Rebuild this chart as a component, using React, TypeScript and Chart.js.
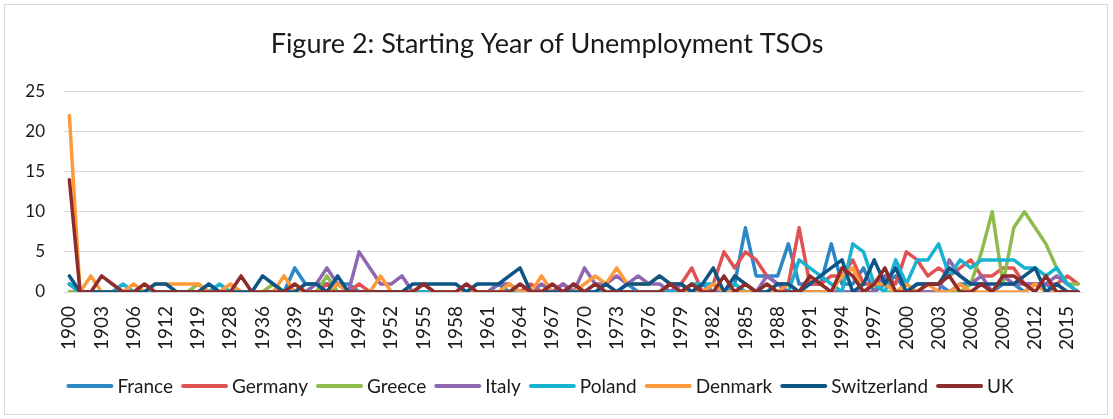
import React, { useEffect, useRef } from "react";
import { Chart, registerables } from "chart.js";

Chart.register(...registerables);

const TITLE = "Figure 2: Starting Year of Unemployment TSOs";

const YEARS = [
  "1900", "1901", "1902", "1903", "1904", "1905", "1906", "1908", "1910", "1912",
  "1914", "1917", "1919", "1922", "1925", "1928", "1931", "1933", "1936", "1937",
  "1938", "1939", "1941", "1943", "1945", "1946", "1947", "1949", "1950", "1951",
  "1952", "1953", "1954", "1955", "1956", "1957", "1958", "1959", "1960", "1961",
  "1962", "1963", "1964", "1965", "1966", "1967", "1968", "1969", "1970", "1971",
  "1972", "1973", "1974", "1975", "1976", "1977", "1978", "1979", "1980", "1981",
  "1982", "1983", "1984", "1985", "1986", "1987", "1988", "1989", "1990", "1991",
  "1992", "1993", "1994", "1995", "1996", "1997", "1998", "1999", "2000", "2001",
  "2002", "2003", "2004", "2005", "2006", "2007", "2008", "2009", "2010", "2011",
  "2012", "2013", "2014", "2015", "2016",
];

const FRANCE = [
  1, 0, 0, 0, 0, 0, 0, 0, 0, 0,
  0, 0, 0, 0, 0, 0, 0, 0, 0, 0,
  0, 3, 1, 1, 1, 1, 1, 0, 0, 0,
  0, 0, 0, 0, 0, 0, 0, 0, 0, 0,
  1, 0, 0, 0, 0, 0, 0, 1, 0, 0,
  0, 0, 1, 0, 0, 0, 0, 1, 0, 1,
  0, 0, 1, 8, 2, 2, 2, 6, 1, 1,
  1, 6, 1, 1, 3, 0, 1, 2, 0, 1,
  1, 1, 0, 1, 1, 1, 0, 1, 1, 0,
  1, 1, 0, 0, 0,
];

const GERMANY = [
  0, 0, 0, 0, 0, 0, 0, 0, 0, 0,
  0, 0, 0, 0, 0, 0, 0, 0, 0, 0,
  0, 0, 0, 0, 1, 0, 0, 1, 0, 0,
  0, 0, 0, 0, 0, 0, 0, 0, 0, 0,
  0, 0, 0, 1, 0, 0, 1, 0, 0, 0,
  0, 0, 0, 0, 0, 0, 1, 1, 3, 0,
  1, 5, 3, 5, 4, 2, 1, 1, 8, 1,
  1, 2, 2, 4, 1, 1, 2, 1, 5, 4,
  2, 3, 2, 3, 4, 2, 2, 3, 3, 1,
  1, 1, 1, 2, 1,
];

const GREECE = [
  0, 0, 0, 0, 0, 0, 0, 0, 0, 0,
  0, 0, 1, 0, 0, 0, 0, 0, 0, 1,
  0, 0, 0, 0, 2, 0, 0, 0, 0, 0,
  0, 0, 0, 0, 0, 0, 0, 0, 0, 0,
  0, 0, 0, 0, 0, 0, 0, 0, 0, 0,
  0, 0, 0, 0, 0, 0, 0, 0, 0, 0,
  0, 0, 0, 0, 0, 0, 0, 0, 0, 0,
  0, 0, 0, 0, 0, 1, 0, 0, 0, 0,
  0, 0, 0, 0, 1, 5, 10, 1, 8, 10,
  8, 6, 3, 1, 1,
];

const ITALY = [
  1, 0, 0, 0, 0, 0, 0, 0, 0, 0,
  0, 0, 0, 0, 0, 0, 0, 0, 0, 0,
  0, 0, 0, 1, 3, 1, 0, 5, 3, 1,
  1, 2, 0, 0, 0, 0, 0, 0, 0, 0,
  1, 1, 0, 0, 1, 0, 1, 0, 3, 1,
  1, 2, 1, 2, 1, 1, 0, 1, 0, 0,
  0, 0, 0, 0, 0, 2, 1, 0, 0, 0,
  0, 0, 0, 0, 0, 0, 2, 0, 0, 0,
  0, 0, 4, 2, 1, 2, 0, 2, 1, 1,
  1, 1, 2, 1, 0,
];

const POLAND = [
  1, 0, 0, 0, 0, 1, 0, 0, 0, 0,
  0, 0, 0, 0, 1, 0, 0, 0, 0, 0,
  0, 0, 0, 0, 0, 0, 0, 0, 0, 0,
  0, 0, 0, 0, 0, 0, 0, 0, 0, 0,
  0, 0, 0, 0, 0, 0, 0, 0, 0, 0,
  0, 0, 0, 0, 0, 0, 0, 0, 1, 1,
  1, 0, 1, 0, 0, 0, 0, 0, 4, 3,
  2, 1, 0, 6, 5, 1, 0, 4, 1, 4,
  4, 6, 2, 4, 3, 4, 4, 4, 4, 3,
  3, 2, 3, 1, 0,
];

const DENMARK = [
  22, 0, 2, 0, 0, 0, 1, 0, 1, 1,
  1, 1, 1, 0, 0, 1, 0, 0, 0, 0,
  2, 0, 0, 0, 0, 1, 0, 0, 0, 2,
  0, 0, 0, 1, 0, 0, 0, 0, 0, 0,
  0, 1, 0, 0, 2, 0, 0, 0, 1, 2,
  1, 3, 1, 1, 1, 2, 1, 0, 0, 0,
  1, 0, 0, 0, 0, 0, 0, 1, 0, 0,
  0, 0, 2, 3, 0, 1, 1, 0, 1, 0,
  1, 0, 0, 1, 0, 0, 0, 0, 0, 0,
  1, 0, 0, 0, 0,
];

const SWITZERLAND = [
  2, 0, 0, 0, 0, 0, 0, 0, 1, 1,
  0, 0, 0, 1, 0, 0, 0, 0, 2, 1,
  0, 0, 1, 1, 0, 2, 0, 0, 0, 0,
  0, 0, 1, 1, 1, 1, 1, 0, 1, 1,
  1, 2, 3, 0, 0, 0, 0, 0, 0, 0,
  1, 0, 1, 1, 1, 2, 1, 1, 0, 1,
  3, 0, 2, 1, 0, 0, 1, 1, 0, 1,
  2, 3, 4, 0, 1, 4, 1, 3, 0, 1,
  1, 1, 3, 2, 1, 1, 1, 1, 1, 2,
  3, 0, 1, 0, 0,
];

const UK = [
  14, 0, 0, 2, 1, 0, 0, 1, 0, 0,
  0, 0, 0, 0, 0, 0, 2, 0, 0, 0,
  0, 1, 0, 0, 0, 0, 0, 0, 0, 0,
  0, 0, 0, 1, 0, 0, 0, 1, 0, 0,
  0, 0, 1, 0, 0, 1, 0, 1, 0, 1,
  0, 0, 0, 0, 0, 0, 1, 0, 1, 0,
  0, 2, 0, 1, 0, 1, 0, 0, 0, 2,
  1, 0, 3, 2, 0, 1, 3, 0, 0, 0,
  1, 1, 2, 0, 0, 1, 0, 2, 2, 1,
  0, 2, 0, 0, 0,
];

const SERIES_NAMES = ["France", "Germany", "Greece", "Italy", "Poland", "Denmark", "Switzerland", "UK"];
const SERIES_VALUES = [FRANCE, GERMANY, GREECE, ITALY, POLAND, DENMARK, SWITZERLAND, UK];
const SERIES_COLORS = ["#2D87C7", "#E05352", "#8DBB4C", "#8E67B0", "#17B3D1", "#FF9A3A", "#0E5585", "#8E2B2B"];

const Y_TICKS = [0, 5, 10, 15, 20, 25];

const FONT = "Lato, 'Noto Sans', sans-serif";
const TEXT_COLOR = "#1A1A1A";
const GRID_COLOR = "#D9D9D9";

const legendPlugin = {
  id: "bottomLineLegend",
  afterDraw(chart: any) {
    const ctx = chart.ctx;
    ctx.save();
    const fontSize = 19;
    ctx.font = `${fontSize}px ${FONT}`;
    const sample = 47;
    const gapText = 4;
    const gapItem = 8;
    const items = chart.data.datasets.map((d: any) => ({ text: d.label, color: d.borderColor }));
    const widths = items.map((it: any) => sample + gapText + ctx.measureText(it.text).width);
    const total = widths.reduce((a: number, b: number) => a + b, 0) + gapItem * (items.length - 1);
    let x = 535 - total / 2;
    const y = 381;
    items.forEach((it: any, i: number) => {
      ctx.strokeStyle = it.color;
      ctx.lineWidth = 4;
      ctx.lineCap = "round";
      ctx.beginPath();
      ctx.moveTo(x + 2, y);
      ctx.lineTo(x + sample - 2, y);
      ctx.stroke();
      ctx.fillStyle = TEXT_COLOR;
      ctx.textBaseline = "middle";
      ctx.textAlign = "left";
      ctx.fillText(it.text, x + sample + gapText, y + 1);
      x += widths[i] + gapItem;
    });
    ctx.restore();
  },
};

export default function App() {
  const canvasRef = useRef<HTMLCanvasElement | null>(null);

  useEffect(() => {
    if (!canvasRef.current) return;
    const n = SERIES_NAMES.length;
    const chart = new Chart(canvasRef.current, {
      type: "line",
      data: {
        labels: YEARS,
        datasets: SERIES_NAMES.map((name, i) => ({
          label: name,
          data: SERIES_VALUES[i],
          borderColor: SERIES_COLORS[i],
          backgroundColor: SERIES_COLORS[i],
          borderWidth: 3.5,
          pointRadius: 0,
          pointHoverRadius: 0,
          tension: 0,
          fill: false,
          borderJoinStyle: "round" as const,
          borderCapStyle: "round" as const,
          order: n - 1 - i,
        })),
      },
      options: {
        responsive: false,
        animation: false,
        layout: { padding: { left: 0, right: 18, top: 0, bottom: 0 } },
        plugins: {
          legend: { display: false },
          tooltip: { enabled: false },
          title: {
            display: true,
            text: TITLE,
            color: TEXT_COLOR,
            font: { family: FONT, size: 27, weight: "normal" as const },
            padding: { top: 23, bottom: 31 },
          },
        },
        scales: {
          x: {
            type: "category",
            offset: true,
            grid: { display: false },
            border: { display: false },
            ticks: {
              autoSkip: false,
              maxRotation: 90,
              minRotation: 90,
              padding: 6,
              color: TEXT_COLOR,
              font: { family: FONT, size: 19 },
              callback: function (this: any, value: any, index: number) {
                return index % 3 === 0 ? this.getLabelForValue(value) : "";
              },
            },
            afterFit(scale: any) {
              scale.height = 122;
            },
          },
          y: {
            min: Y_TICKS[0],
            max: Y_TICKS[Y_TICKS.length - 1],
            grid: { color: GRID_COLOR, lineWidth: 1, drawTicks: false },
            border: { display: false },
            ticks: {
              stepSize: Y_TICKS[1] - Y_TICKS[0],
              padding: 19,
              color: TEXT_COLOR,
              font: { family: FONT, size: 17 },
            },
            afterFit(scale: any) {
              scale.width = 59;
            },
          },
        },
      },
      plugins: [legendPlugin],
    });
    return () => chart.destroy();
  }, []);

  return (
    <div
      style={{
        position: "absolute",
        left: 4,
        top: 4,
        width: 1104,
        height: 411,
        border: "1px solid #D9D9D9",
        boxSizing: "border-box",
        background: "#fff",
      }}
    >
      <canvas ref={canvasRef} width={1102} height={409} style={{ display: "block" }} />
    </div>
  );
}
